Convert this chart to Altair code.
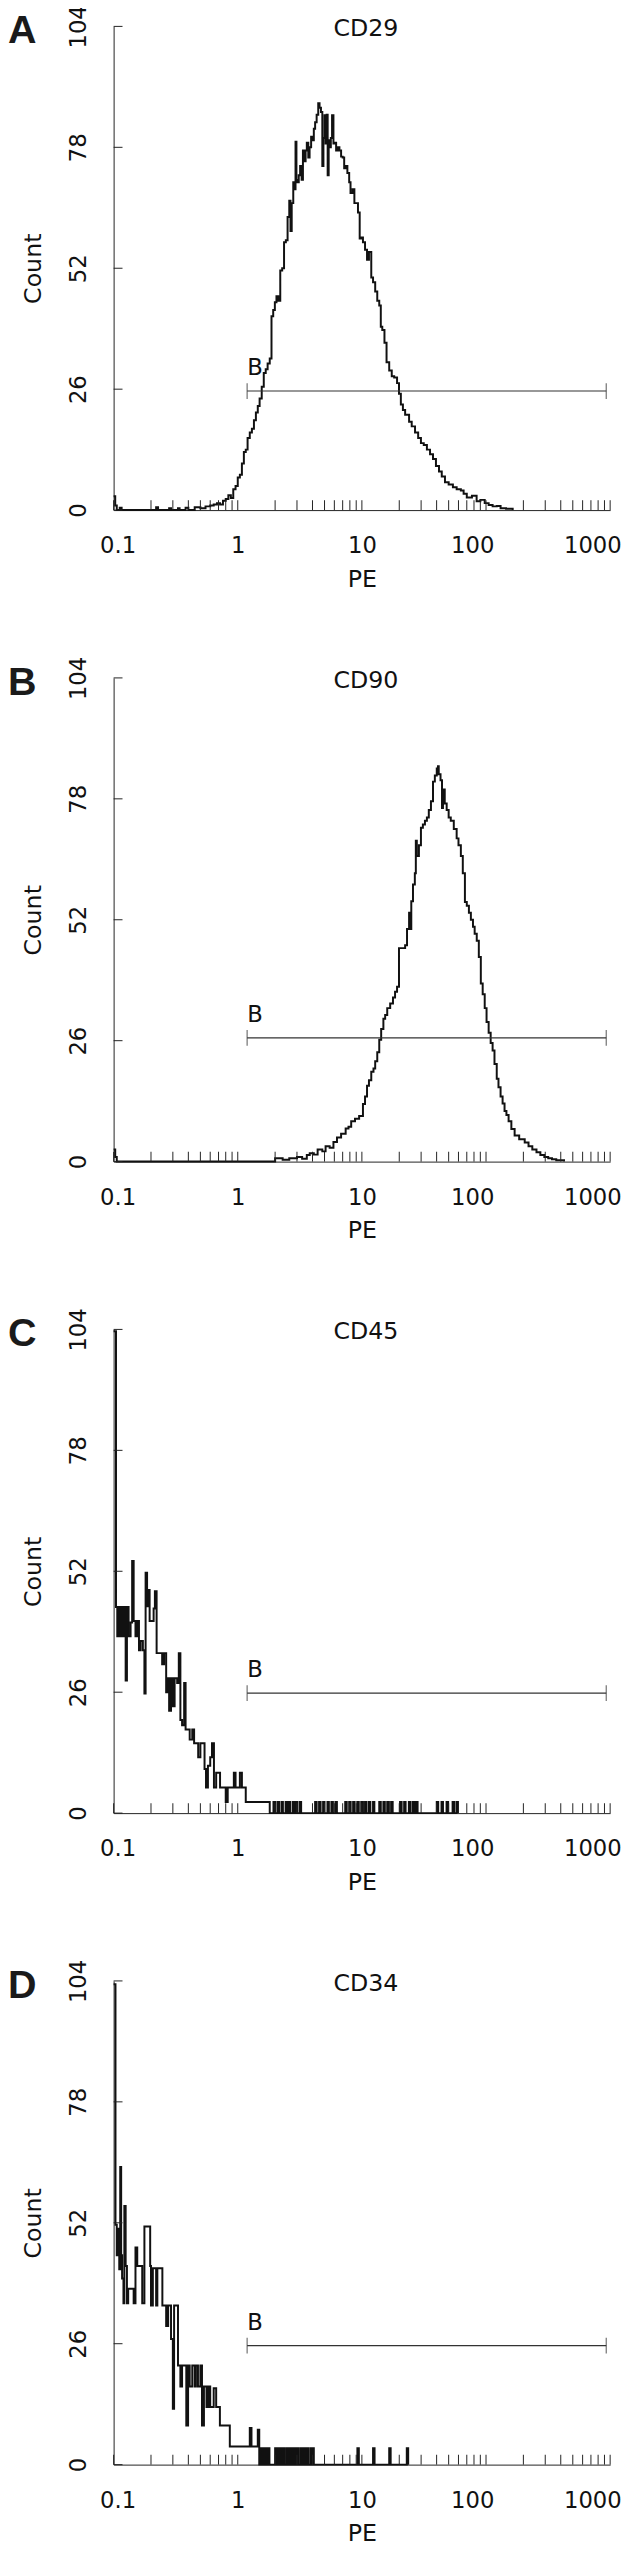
import altair as alt
import pandas as pd

FONT = "DejaVu Sans"
W, H = 503, 490

# axis ticks
x_minor_ticks = [0.1, 0.2, 0.3, 0.4, 0.5, 0.6, 0.7, 0.8, 0.9,
                 1, 2, 3, 4, 5, 6, 7, 8, 9,
                 10, 20, 30, 40, 50, 60, 70, 80, 90,
                 100, 200, 300, 400, 500, 600, 700, 800, 900, 1000]
x_labels = [0.1, 1, 10, 100, 1000]
y_ticks = [0, 26, 52, 78, 104]

panel_letters = ["A", "B", "C", "D"]
markers = ["CD29", "CD90", "CD45", "CD34"]

# gate "B"
gate_name = "B"
gate_start = [1.19, 1.19, 1.19, 1.19]
gate_end = [930, 930, 930, 930]
gate_level = [25.6, 26.6, 25.8, 25.6]

# ---- CD29 histogram ----
cd29_pe = [0.1, 0.103, 0.106, 0.112, 0.116, 0.22, 0.228, 0.28, 0.29, 0.33,
           0.34, 0.38, 0.40, 0.45, 0.50, 0.55, 0.60, 0.64, 0.68, 0.72,
           0.76, 0.80, 0.84, 0.88, 0.92, 0.96, 1.00, 1.04, 1.08, 1.12,
           1.16, 1.20, 1.25, 1.30, 1.35, 1.40, 1.45, 1.50, 1.56, 1.62,
           1.68, 1.74, 1.81, 1.87, 1.93, 1.99, 2.05, 2.12, 2.20, 2.28,
           2.36, 2.44, 2.52, 2.60, 2.66, 2.72, 2.80, 2.86, 2.92, 2.97,
           3.03, 3.10, 3.18, 3.27, 3.35, 3.43, 3.52, 3.60, 3.70, 3.79,
           3.90, 4.00, 4.10, 4.20, 4.32, 4.45, 4.56, 4.68, 4.80, 4.90,
           5.00, 5.10, 5.20, 5.30, 5.40, 5.50, 5.62, 5.75, 5.90, 6.05,
           6.20, 6.40, 6.59, 6.80, 7.00, 7.20, 7.40, 7.64, 7.90, 8.10,
           8.41, 8.70, 9.00, 9.30, 9.60, 9.90, 10.2, 10.6, 11.0, 11.4,
           11.9, 12.3, 12.8, 13.3, 13.8, 14.2, 14.6, 15.2, 15.8, 16.6,
           17.4, 18.2, 19.2, 19.9, 20.6, 21.4, 22.3, 23.2, 24.0, 25.2,
           26.8, 28.4, 29.9, 31.5, 33.4, 35.4, 37.4, 39.5, 41.8, 44.0,
           46.7, 50.0, 54.1, 58.0, 62.7, 66.0, 70.0, 77.0, 84.0, 90.0,
           97.6, 105, 113, 122, 131, 145, 164]
cd29_count = [3, 1, 0, 0.5, 0, 0.6, 0, 0.4, 0, 0.4,
              0, 0.5, 0, 0.6, 0.4, 0.8, 1.0, 1.2, 1.5, 1.2,
              2.0, 2.4, 3.2, 2.6, 4.5, 5.2, 7.0, 7.6, 10, 12.5,
              13, 15.5, 16.7, 17.5, 19.3, 21, 22.4, 24, 26.5, 29.5,
              30.3, 31.5, 32.6, 41.7, 43, 44.7, 46, 45, 51.5, 52,
              57.6, 58, 63, 66.5, 60, 66, 70.5, 69, 79.2, 71,
              70.5, 72, 74, 71, 77.3, 75, 77.3, 79, 75.8, 78,
              80.3, 79.5, 82, 83.4, 85, 87.5, 86.5, 85.6, 74, 80,
              84.9, 78.8, 85, 72, 79.5, 78, 80, 84.9, 78.8, 79,
              77.3, 78, 77.3, 76, 75.8, 73.5, 74, 72.5, 70.5, 68.2,
              69, 66, 66, 64, 58.4, 58.6, 57.6, 56, 53.8, 55.5,
              50, 49, 47, 45, 44, 39.4, 38.7, 36, 31.8, 30,
              28.8, 28.5, 27.3, 25, 22.7, 21.5, 20.5, 20.5, 19, 18,
              16.7, 15.5, 14.4, 14, 13, 12, 11, 9.5, 8.3, 7.2,
              6, 5.5, 4.9, 4.5, 4.2, 3.5, 2.7, 3.1, 1.9, 2.2,
              1.5, 1.1, 0.8, 0.9, 0.4, 0.3, 0]

# ---- CD90 histogram ----
cd90_pe = [0.1, 0.103, 0.106, 1.9, 2.0, 2.3, 2.6, 3.0, 3.3, 3.6,
           3.8, 4.1, 4.4, 4.8, 5.1, 5.5, 5.9, 6.3, 6.8, 7.4,
           7.8, 8.2, 8.8, 9.5, 10.2, 10.6, 11.0, 11.4, 11.9, 12.4,
           12.8, 13.3, 13.8, 14.3, 14.9, 15.4, 16.0, 16.9, 17.8, 18.5,
           19.2, 19.9, 21.0, 22.3, 23.1, 24.0, 24.5, 25.0, 25.8, 26.7,
           27.2, 27.7, 28.8, 29.9, 31.0, 32.2, 33.4, 34.6, 36.0, 37.4,
           38.7, 40.1, 41.0, 41.6, 43.0, 44.2, 45.0, 46.5, 48.2, 50.0,
           52.0, 55.0, 58.0, 60.0, 62.7, 65.0, 67.6, 70.0, 72.8, 75.5,
           78.5, 81.0, 84.2, 87.5, 90.8, 94.0, 97.6, 101, 105, 109,
           113, 117, 122, 126, 131, 136, 141, 146, 152, 160,
           170, 185, 205, 220, 236, 255, 274, 295, 317, 340,
           368, 400, 425]
cd90_count = [2.6, 1, 0, 0, 0.7, 0.4, 0.7, 1.0, 0.6, 1.4,
              1.8, 1.5, 2.6, 2.2, 3.3, 3.0, 4.2, 5.2, 6.0, 7.1,
              7.5, 8.7, 9.2, 9.8, 12.4, 14, 16.3, 17.5, 19.3, 20,
              21.6, 23.5, 26.2, 28.5, 30.7, 31.5, 33, 34, 35.3, 36.5,
              37.6, 45.9, 45.9, 46.5, 50, 53.5, 50, 56, 59.6, 62,
              69, 65.7, 68, 71.8, 72.5, 73.3, 74, 75.6, 77.5, 81.7,
              83, 84.5, 85, 83.3, 82, 76, 80, 77, 75.6, 74,
              73.3, 71.5, 69.5, 68, 65.7, 62, 55.8, 55, 53.5, 52,
              50.5, 49, 47.5, 44, 38.3, 36, 33, 30, 27.7, 25.5,
              23.9, 21, 17.8, 16, 14, 12.5, 10.9, 10, 8.7, 7,
              5.6, 4.8, 4.1, 3.3, 2.6, 2, 1.4, 1, 0.7, 0.5,
              0.3, 0.3, 0]

# ---- CD45 histogram ----
cd45_pe = [0.1, 0.1045, 0.107, 0.11, 0.113, 0.116, 0.119, 0.122, 0.125, 0.128,
           0.132, 0.137, 0.141, 0.145, 0.15, 0.155, 0.16, 0.165, 0.172, 0.177,
           0.181, 0.186, 0.19, 0.195, 0.2, 0.21, 0.215, 0.222, 0.235, 0.246,
           0.255, 0.265, 0.27, 0.28, 0.29, 0.3, 0.31, 0.325, 0.335, 0.345,
           0.356, 0.37, 0.38, 0.395, 0.41, 0.43, 0.445, 0.46, 0.48, 0.5,
           0.52, 0.54, 0.555, 0.575, 0.6, 0.62, 0.643, 0.67, 0.7, 0.72,
           0.77, 0.8, 0.83, 0.88, 0.93, 0.96, 1.0, 1.04, 1.08, 1.16,
           1.81,
           1.94, 2.0, 2.09, 2.15, 2.25, 2.31, 2.43, 2.5, 2.58, 2.65,
           2.78, 2.86, 2.93, 3.01, 3.15, 3.24, 4.2, 4.32, 4.52, 4.65,
           4.87, 5.0, 5.28, 5.42, 5.68, 5.84, 6.12, 6.29, 7.34, 7.55,
           7.9, 8.12, 8.5, 8.74, 9.18, 9.44, 9.88, 10.2, 10.6, 10.9,
           11.4, 11.7, 12.3, 12.6, 13.8, 14.2, 14.9, 15.3, 16.0, 16.5,
           17.2, 17.7, 20.3, 20.9, 21.9, 22.5, 23.9, 24.6, 25.7, 26.4,
           27.3, 28.1, 40.1, 41.2, 43.8, 45.0, 48.1, 49.5, 53.8, 55.3,
           57.8, 59.4]
cd45_count = [103.6, 44.3, 38, 44.3, 38, 44.3, 38, 44.3, 28.5, 44.3,
              38, 41, 54.2, 41.3, 38, 41.3, 35, 37, 35, 25.7,
              51.7, 44.5, 48, 41.3, 41.3, 44, 47.7, 34.4, 34.4, 32,
              34.4, 26, 29, 22, 29, 23, 29, 28, 34.4, 20,
              18.9, 28, 18, 18, 15.8, 18, 15, 15, 12, 15,
              15, 9.5, 5.5, 10.2, 12, 15, 5.5, 8.7, 8.7, 5.5,
              5.5, 2.4, 5.5, 5.5, 8.7, 5.5, 5.5, 8.7, 5.5, 2.4,
              0,
              2.4, 0, 2.4, 0, 2.4, 0, 2.4, 0, 2.4, 0,
              2.4, 0, 2.4, 0, 2.4, 0, 2.4, 0, 2.4, 0,
              2.4, 0, 2.4, 0, 2.4, 0, 2.4, 0, 2.4, 0,
              2.4, 0, 2.4, 0, 2.4, 0, 2.4, 0, 2.4, 0,
              2.4, 0, 2.4, 0, 2.4, 0, 2.4, 0, 2.4, 0,
              2.4, 0, 2.4, 0, 2.4, 0, 2.4, 0, 2.4, 0,
              2.4, 0, 2.4, 0, 2.4, 0, 2.4, 0, 2.4, 0,
              2.4, 0]

# ---- CD34 histogram ----
cd34_pe = [0.1, 0.1035, 0.106, 0.109, 0.111, 0.113, 0.115, 0.117, 0.12, 0.122,
           0.125, 0.128, 0.131, 0.137, 0.145, 0.15, 0.155, 0.163, 0.17, 0.177,
           0.19, 0.197, 0.2, 0.207, 0.215, 0.22, 0.225, 0.24, 0.247, 0.255,
           0.265, 0.275, 0.29, 0.3, 0.307, 0.32, 0.33, 0.345, 0.356, 0.37,
           0.385, 0.398, 0.41, 0.43, 0.45, 0.46, 0.478, 0.5, 0.515, 0.534,
           0.56, 0.58, 0.6, 0.64, 0.67, 0.718, 0.8, 0.863, 1.25, 1.29,
           1.45, 1.49,
           1.5, 1.54, 1.56, 1.6, 1.62, 1.66, 1.68, 1.72, 1.75, 1.8,
           2.0, 2.05, 2.1, 2.16, 2.2, 2.26, 2.3, 2.36, 2.45, 2.52,
           2.55, 2.62, 2.7, 2.77, 2.85, 2.93, 3.0, 3.08, 3.2, 3.29,
           3.4, 3.49, 3.6, 3.7, 3.85, 3.96, 4.0, 4.1, 9.2, 9.45,
           12.3, 12.65, 16.6, 17.05, 23.0, 23.6]
cd34_count = [103.3, 51.6, 45, 50.7, 42, 64, 45, 40, 34.7, 55.6,
              42.7, 34.7, 37.8, 37.8, 34.7, 46.7, 42.7, 42.7, 34.7, 51.2,
              51.2, 42.7, 34.2, 42.2, 42.2, 34.2, 42.2, 42.2, 34.2, 34.2,
              29.8, 34.2, 27, 12, 34.2, 34.2, 21.3, 16.8, 21.3, 21.3,
              8.4, 21.3, 16.8, 21.3, 16.8, 21.3, 16.8, 21.3, 8.4, 16.8,
              12.4, 16.8, 12.4, 16.4, 12.4, 8.4, 8.4, 3.9, 7.9, 3.9,
              7.5, 0,
              3.5, 0, 3.5, 0, 3.5, 0, 3.5, 0, 3.5, 0,
              3.5, 0, 3.5, 0, 3.5, 0, 3.5, 0, 3.5, 0,
              3.5, 0, 3.5, 0, 3.5, 0, 3.5, 0, 3.5, 0,
              3.5, 0, 3.5, 0, 3.5, 0, 3.5, 0, 3.5, 0,
              3.5, 0, 3.5, 0, 3.5, 0]

series_pe = [cd29_pe, cd90_pe, cd45_pe, cd34_pe]
series_count = [cd29_count, cd90_count, cd45_count, cd34_count]

INK = "#111111"
AXIS = "#222222"


def panel(i):
    xs = alt.Scale(type="log", domain=[0.1, 1000], nice=False)
    ys = alt.Scale(domain=[0, 104], nice=False, zero=True)
    xaxis = alt.Axis(
        values=x_labels, format="~g", title="PE", ticks=False, tickSize=0,
        labelPadding=25, titlePadding=10, labelFlush=False, labelOverlap=False,
        labelOffset={"condition": [
            {"test": "datum.value >= 1000", "value": -18},
            {"test": "datum.value >= 100", "value": -14},
            {"test": "datum.value < 0.5", "value": 4}], "value": 0},
    )
    yaxis = alt.Axis(
        values=y_ticks, title="Count", ticks=False, tickSize=0,
        labelAngle=270, labelAlign="center", labelBaseline="bottom",
        labelPadding=23, titlePadding=23, labelFlush=False, labelOverlap=False,
    )
    X = alt.X("pe:Q", scale=xs, axis=xaxis)
    Y = alt.Y("count:Q", scale=ys, axis=yaxis)

    hist = alt.Chart(pd.DataFrame({"pe": series_pe[i], "count": series_count[i]})).mark_line(
        interpolate="step-after", color=INK, strokeWidth=2
    ).encode(x=X, y=Y)

    xt = alt.Chart(pd.DataFrame({"pe": x_minor_ticks})).mark_rule(
        color=AXIS, strokeWidth=1
    ).encode(x=X, y=alt.value(H), y2=alt.value(H - 10))

    yt = alt.Chart(pd.DataFrame({"count": y_ticks})).mark_rule(
        color=AXIS, strokeWidth=1
    ).encode(y=Y, x=alt.value(0), x2=alt.value(9))

    gdf = pd.DataFrame({"pe": [gate_start[i]], "pe2": [gate_end[i]],
                        "count": [gate_level[i]], "t": [gate_name]})
    gate = alt.Chart(gdf).mark_rule(color="#333333", strokeWidth=1.2).encode(
        x=X, x2="pe2:Q", y=Y)
    caps = alt.Chart(pd.DataFrame({"pe": [gate_start[i], gate_end[i]],
                                   "count": [gate_level[i], gate_level[i]]})).mark_tick(
        orient="vertical", size=16, thickness=1.2, color="#333333"
    ).encode(x=X, y=Y)
    glabel = alt.Chart(gdf).mark_text(
        align="left", baseline="alphabetic", dy=-16, fontSize=23, font=FONT, color=INK
    ).encode(x=X, y=Y, text="t:N")

    letter = alt.Chart(pd.DataFrame({"t": [panel_letters[i]]})).mark_text(
        align="left", baseline="alphabetic", fontSize=40, fontWeight="bold",
        font="Liberation Sans", color="#1a1a1a"
    ).encode(text="t:N", x=alt.value(-107), y=alt.value(17))

    title = alt.Chart(pd.DataFrame({"t": [markers[i]]})).mark_text(
        align="center", baseline="alphabetic", fontSize=24, font=FONT, color=INK
    ).encode(text="t:N", x=alt.value(W / 2 + 4), y=alt.value(10))

    return alt.layer(hist, xt, yt, gate, caps, glabel, letter, title).properties(
        width=W, height=H,
    )


chart = alt.vconcat(*[panel(i) for i in range(4)], spacing=66).properties(
    padding={"left": 0, "top": -20, "right": 0, "bottom": 0}
).configure_view(stroke=None).configure_axis(
    grid=False, domainColor=AXIS, domainWidth=1,
    labelFont=FONT, labelFontSize=23, labelColor=INK,
    titleFont=FONT, titleFontSize=24, titleFontWeight="normal", titleColor=INK,
)

chart.save("out.html", embed_options={"renderer": "svg", "actions": False})
